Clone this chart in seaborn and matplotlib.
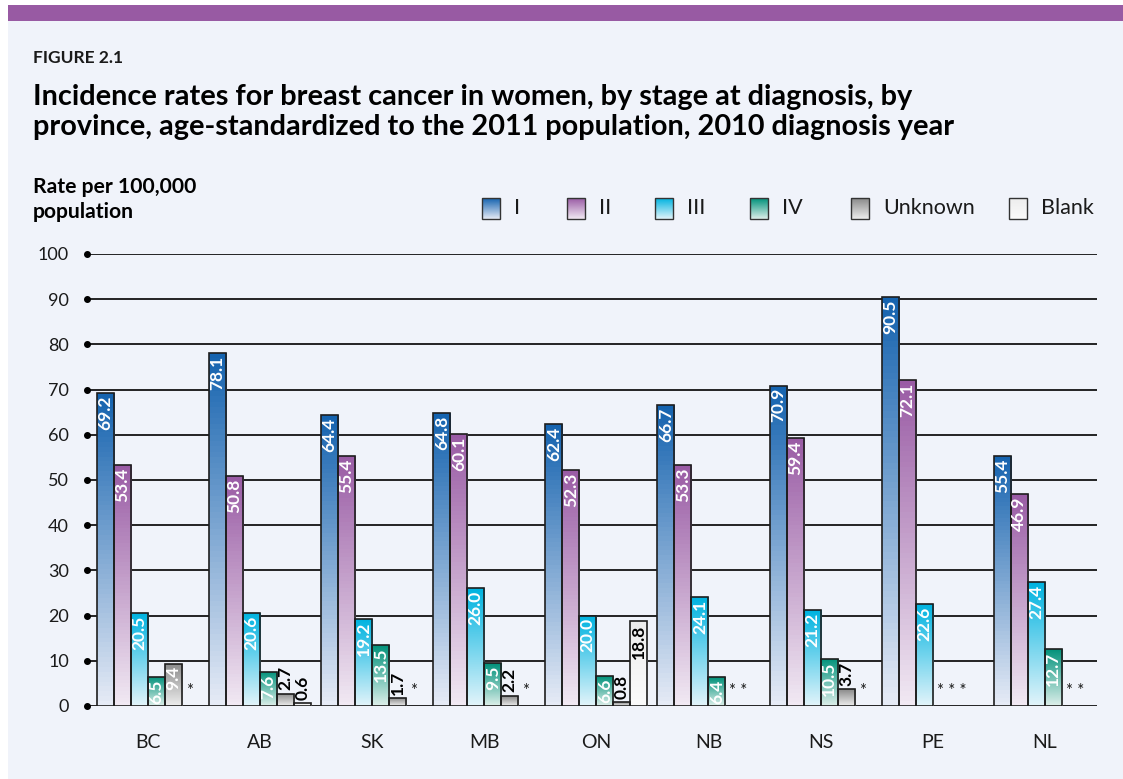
import numpy as np
import pandas as pd
import matplotlib
matplotlib.use("Agg")
import matplotlib.pyplot as plt
import matplotlib.colors as mcolors
import seaborn as sns

# =========================
# Data
# =========================
provinces = ["BC", "AB", "SK", "MB", "ON", "NB", "NS", "PE", "NL"]
stages = ["I", "II", "III", "IV", "Unknown", "Blank"]

stage_i = [69.2, 78.1, 64.4, 64.8, 62.4, 66.7, 70.9, 90.5, 55.4]
stage_ii = [53.4, 50.8, 55.4, 60.1, 52.3, 53.3, 59.4, 72.1, 46.9]
stage_iii = [20.5, 20.6, 19.2, 26.0, 20.0, 24.1, 21.2, 22.6, 27.4]
stage_iv = [6.5, 7.6, 13.5, 9.5, 6.6, 6.4, 10.5, np.nan, 12.7]
stage_unknown = [9.4, 2.7, 1.7, 2.2, 0.8, np.nan, 3.7, np.nan, np.nan]
stage_blank = [np.nan, 0.6, np.nan, np.nan, 18.8, np.nan, np.nan, np.nan, np.nan]

yticks = list(range(0, 101, 10))

# top / bottom colours of the gradient fills
top_colors = ["#1563AF", "#9A5CA5", "#00B3E0", "#00917A", "#8A8A8A", "#EDEDED"]
bottom_colors = ["#E6EBF6", "#F1E9F3", "#E2F4FA", "#DDEFEA", "#EDEDED", "#FBFBFB"]

values = [stage_i, stage_ii, stage_iii, stage_iv, stage_unknown, stage_blank]
rows = []
for stage, vals in zip(stages, values):
    for prov, v in zip(provinces, vals):
        rows.append({"Province": prov, "Stage": stage, "Rate": v})
df = pd.DataFrame(rows)
present = df.dropna()

# =========================
# Figure
# =========================
plt.rcParams["font.family"] = ["Lato", "DejaVu Sans"]
W, H = 1123, 779
fig = plt.figure(figsize=(W / 100, H / 100), dpi=100, facecolor="white")

# background panel, header band and texts (pixel coordinates)
bg = fig.add_axes([0, 0, 1, 1], zorder=-1)
bg.set_xlim(0, W)
bg.set_ylim(H, 0)
bg.axis("off")
bg.add_patch(plt.Rectangle((8, 5), W - 8, H - 5, color="#F0F3FA", lw=0))
bg.add_patch(plt.Rectangle((8, 5), W - 8, 16, color="#985AA3", lw=0))
bg.text(33, 58, "FIGURE 2.1", fontsize=12.5, fontweight="bold", va="center", color="#1a1a1a")
bg.text(33, 97, "Incidence rates for breast cancer in women, by stage at diagnosis, by",
        fontsize=20.8, fontweight="bold", va="center", color="black")
bg.text(33, 127, "province, age-standardized to the 2011 population, 2010 diagnosis year",
        fontsize=20.8, fontweight="bold", va="center", color="black")
bg.text(33, 187, "Rate per 100,000", fontsize=15.2, fontweight="bold", va="center")
bg.text(33, 212, "population", fontsize=15.2, fontweight="bold", va="center")

# legend with gradient boxes
legend_x = [482, 567, 655, 750, 851, 1009]
grad = np.linspace(0, 1, 64)[:, None]
for lx, stage, ct, cb in zip(legend_x, stages, top_colors, bottom_colors):
    c0 = np.array(mcolors.to_rgb(cb))
    c1 = np.array(mcolors.to_rgb(ct))
    img = c0 + (c1 - c0) * grad[..., None]
    bg.imshow(img, extent=[lx, lx + 18, 219, 198], origin="lower", aspect="auto", zorder=2)
    bg.add_patch(plt.Rectangle((lx, 198), 18, 21, fill=False, ec="#333333", lw=1, zorder=3))
    bg.text(lx + 32, 208, stage, fontsize=15.5, va="center", color="#1a1a1a")

# main axes
ax = fig.add_axes([87 / W, (H - 706) / H, 1010 / W, (706 - 254) / H])
ax.set_facecolor("none")

sns.barplot(data=present, x="Province", y="Rate", hue="Stage", order=provinces,
            hue_order=stages, palette=top_colors, width=0.91, dodge=True,
            edgecolor="#1e1e1e", linewidth=1.2, legend=False, ax=ax, zorder=2)

# gradient fills clipped to each bar + value labels
for container, stage, ct, cb in zip(ax.containers, stages, top_colors, bottom_colors):
    c0 = np.array(mcolors.to_rgb(cb))
    c1 = np.array(mcolors.to_rgb(ct))
    img = c0 + (c1 - c0) * grad[..., None]
    for bar in container:
        h = bar.get_height()
        if np.isnan(h):
            continue
        x0 = bar.get_x()
        x1 = x0 + bar.get_width()
        xc = (x0 + x1) / 2
        bar.set_facecolor("none")
        im = ax.imshow(img, extent=[x0, x1, 0, h], origin="lower", aspect="auto", zorder=1.9)
        im.set_clip_path(bar)
        label = f"{h:.1f}"
        if h < 5:
            ax.text(xc, h + 0.8, label, rotation=90, ha="center", va="bottom",
                    fontsize=12.5, fontweight="bold", color="black", zorder=4)
        elif stage == "Blank":
            ax.text(xc, h - 0.8, label, rotation=90, ha="center", va="top",
                    fontsize=12.5, fontweight="bold", color="black", zorder=4)
        else:
            ax.text(xc, h - 0.6, label, rotation=90, ha="center", va="top",
                    fontsize=12.5, fontweight="bold", color="white", zorder=4)

# asterisks where values are suppressed
slot = 0.91 / 6
for i, prov in enumerate(provinces):
    missing = [j for j, vals in enumerate(values) if np.isnan(vals[i])]
    if missing:
        xs = i - 0.455 + slot * (missing[0] + 0.5)
        ax.text(xs - 0.04, 3.3, " ".join("*" * len(missing)), ha="left", va="center",
                fontsize=12, color="#1a1a1a", zorder=4)

# gridlines with dots at left end
for y in yticks:
    ax.axhline(y, color="black", lw=1.2, zorder=0.5)
ax.plot(np.full(len(yticks), -0.544), yticks, "o", color="black", ms=4, clip_on=False, zorder=3)

ax.set_xlim(-0.544, 8.466)
ax.set_ylim(0, 100)
ax.set_yticks(yticks)
for s in ax.spines.values():
    s.set_visible(False)
ax.tick_params(axis="y", length=0, pad=13, labelsize=13, labelcolor="#1a1a1a")
ax.tick_params(axis="x", length=0, pad=20, labelsize=14, labelcolor="#1a1a1a")
ax.set_xlabel("")
ax.set_ylabel("")
ax.grid(False)

fig.savefig("out.png", dpi=100, facecolor="white")
